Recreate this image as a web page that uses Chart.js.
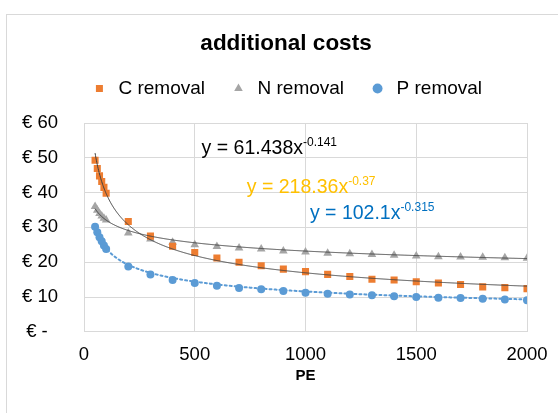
<!DOCTYPE html>
<html>
<head>
<meta charset="utf-8">
<script src="https://cdn.jsdelivr.net/npm/chart.js"></script>
<style>
  html, body { margin: 0; padding: 0; background: #fff; overflow: hidden; }
  #wrap { position: relative; width: 558px; height: 413px; overflow: hidden; }
  #frame { position: absolute; left: 6px; top: 14px; width: 600px; height: 450px; border: 1px solid #d9d9d9; box-sizing: border-box; }
  canvas { position: absolute; left: 0; top: 0; }
</style>
</head>
<body>
<div id="wrap">
  <div id="frame"></div>
  <canvas id="costChart" width="580" height="413"></canvas>
</div>
<script>
// PE values (x) shared by all three series
const peValues = [50, 60, 70, 80, 90, 100, 200, 300, 400, 500, 600, 700, 800, 900, 1000,
  1100, 1200, 1300, 1400, 1500, 1600, 1700, 1800, 1900, 2000];
const cRemoval = [49.3, 46.9, 44.8, 43.2, 41.5, 39.8, 31.7, 27.5, 24.6, 22.8, 21.2, 20.0, 19.0, 18.0, 17.3,
  16.5, 15.9, 15.1, 14.9, 14.4, 14.0, 13.6, 12.9, 12.7, 12.4];
const nRemoval = [36.0, 34.9, 34.0, 33.3, 32.6, 32.1, 28.4, 26.7, 25.7, 25.0, 24.5, 24.1, 23.8, 23.2, 22.9,
  22.6, 22.4, 22.2, 22.0, 21.8, 21.6, 21.5, 21.4, 21.3, 21.1];
const pRemoval = [30.2, 28.6, 27.2, 26.0, 24.8, 23.8, 18.8, 16.5, 14.9, 14.0, 13.2, 12.6, 12.2, 11.7, 11.2,
  10.9, 10.7, 10.5, 10.2, 10.0, 9.8, 9.7, 9.5, 9.3, 9.1];
const seriesNames = ['C removal', 'N removal', 'P removal'];
const xTicks = [0, 500, 1000, 1500, 2000];
const yTicks = [0, 10, 20, 30, 40, 50, 60];

// power trendlines y = a * x^b, as printed on the chart
const trendA = [218.36, 61.438, 102.1];
const trendB = [-0.37, -0.141, -0.315];
const trendLabels = ['218.36', '61.438', '102.1'];
const trendExp = ['-0.37', '-0.141', '-0.315'];

const FONT = "'Liberation Sans', Arial, sans-serif";
Chart.defaults.font.family = FONT;
Chart.defaults.color = '#000';

const colors = ['#ED7D31', '#A5A5A5', '#5B9BD5'];
const styles = ['rect', 'triangle', 'circle'];
const radii = [5, 5, 4];
const seriesData = [cRemoval, nRemoval, pRemoval];

const trendStyle = [
  { color: '#404040', width: 1, dash: [] },
  { color: '#404040', width: 1, dash: [] },
  { color: '#5B9BD5', width: 2, dash: [2, 3] }
];
// equation label anchors (data coords: left edge, vertical centre) and colours
const eqPos = [[735, 41.3], [531, 52.6], [1020, 34.0]];
const eqColor = ['#FFC000', '#000000', '#0070C0'];

const trendPlugin = {
  id: 'trendlines',
  afterDatasetsDraw(chart) {
    const { ctx, scales: { x, y }, chartArea } = chart;
    const x0 = peValues[0], x1 = peValues[peValues.length - 1];
    ctx.save();
    ctx.beginPath();
    ctx.rect(chartArea.left, chartArea.top, chartArea.width, chartArea.height);
    ctx.clip();
    trendA.forEach((a, i) => {
      const st = trendStyle[i];
      ctx.beginPath();
      ctx.strokeStyle = st.color;
      ctx.lineWidth = st.width;
      ctx.setLineDash(st.dash);
      ctx.lineCap = st.dash.length ? 'round' : 'butt';
      for (let v = x0; v <= x1; v += 2) {
        const px = x.getPixelForValue(v);
        const py = y.getPixelForValue(a * Math.pow(v, trendB[i]));
        if (v === x0) ctx.moveTo(px, py); else ctx.lineTo(px, py);
      }
      ctx.stroke();
    });
    ctx.restore();

    ctx.save();
    ctx.textBaseline = 'middle';
    ctx.textAlign = 'left';
    trendA.forEach((a, i) => {
      const px = x.getPixelForValue(eqPos[i][0]);
      const py = y.getPixelForValue(eqPos[i][1]);
      const main = 'y = ' + trendLabels[i] + 'x';
      ctx.fillStyle = eqColor[i];
      ctx.font = '19.5px ' + FONT;
      ctx.fillText(main, px, py);
      const w = ctx.measureText(main).width;
      ctx.font = '12px ' + FONT;
      ctx.fillText(trendExp[i], px + w, py - 6);
    });
    ctx.restore();
  }
};

new Chart(document.getElementById('costChart'), {
  type: 'scatter',
  data: {
    datasets: seriesNames.map((name, i) => ({
      label: name,
      data: peValues.map((v, j) => ({ x: v, y: seriesData[i][j] })),
      backgroundColor: colors[i],
      borderColor: colors[i],
      borderWidth: 0,
      pointStyle: styles[i],
      pointRadius: radii[i],
      pointHoverRadius: radii[i]
    }))
  },
  options: {
    responsive: false,
    animation: false,
    layout: { padding: { left: 0, right: 8, top: 30, bottom: 28 } },
    plugins: {
      title: {
        display: true,
        text: 'additional costs',
        font: { size: 22.5, weight: 'bold' },
        color: '#000',
        padding: { top: 0, bottom: -2 }
      },
      // empty spacer between legend and plot area
      subtitle: {
        display: true,
        text: '',
        weight: 500,
        font: { size: 10 },
        padding: { top: 0, bottom: 3 }
      },
      legend: {
        position: 'top',
        labels: {
          usePointStyle: true,
          boxWidth: 19,
          boxHeight: 7,
          padding: 24,
          font: { size: 19 },
          color: '#000'
        }
      },
      tooltip: { enabled: false }
    },
    scales: {
      x: {
        type: 'linear',
        min: xTicks[0],
        max: xTicks[xTicks.length - 1],
        afterBuildTicks: s => { s.ticks = xTicks.map(v => ({ value: v })); },
        afterFit: s => { s.paddingRight = 53; },
        ticks: { padding: 12, font: { size: 18.5 }, color: '#000', callback: v => String(v) },
        grid: { color: '#d9d9d9', drawTicks: false },
        border: { color: '#d9d9d9' },
        title: { display: true, text: 'PE', font: { size: 15, weight: 'bold' }, color: '#000', padding: { top: -11, bottom: 0 } }
      },
      y: {
        min: yTicks[0],
        max: yTicks[yTicks.length - 1],
        afterBuildTicks: s => { s.ticks = yTicks.map(v => ({ value: v })); },
        afterFit: s => { s.width = 84; },
        ticks: {
          padding: 26,
          font: { size: 18.5 },
          color: '#000',
          callback: v => v === 0 ? '€ -  ' : '€ ' + v
        },
        grid: { color: '#d9d9d9', drawTicks: false },
        border: { color: '#d9d9d9' }
      }
    }
  },
  plugins: [trendPlugin]
});
</script>
</body>
</html>
